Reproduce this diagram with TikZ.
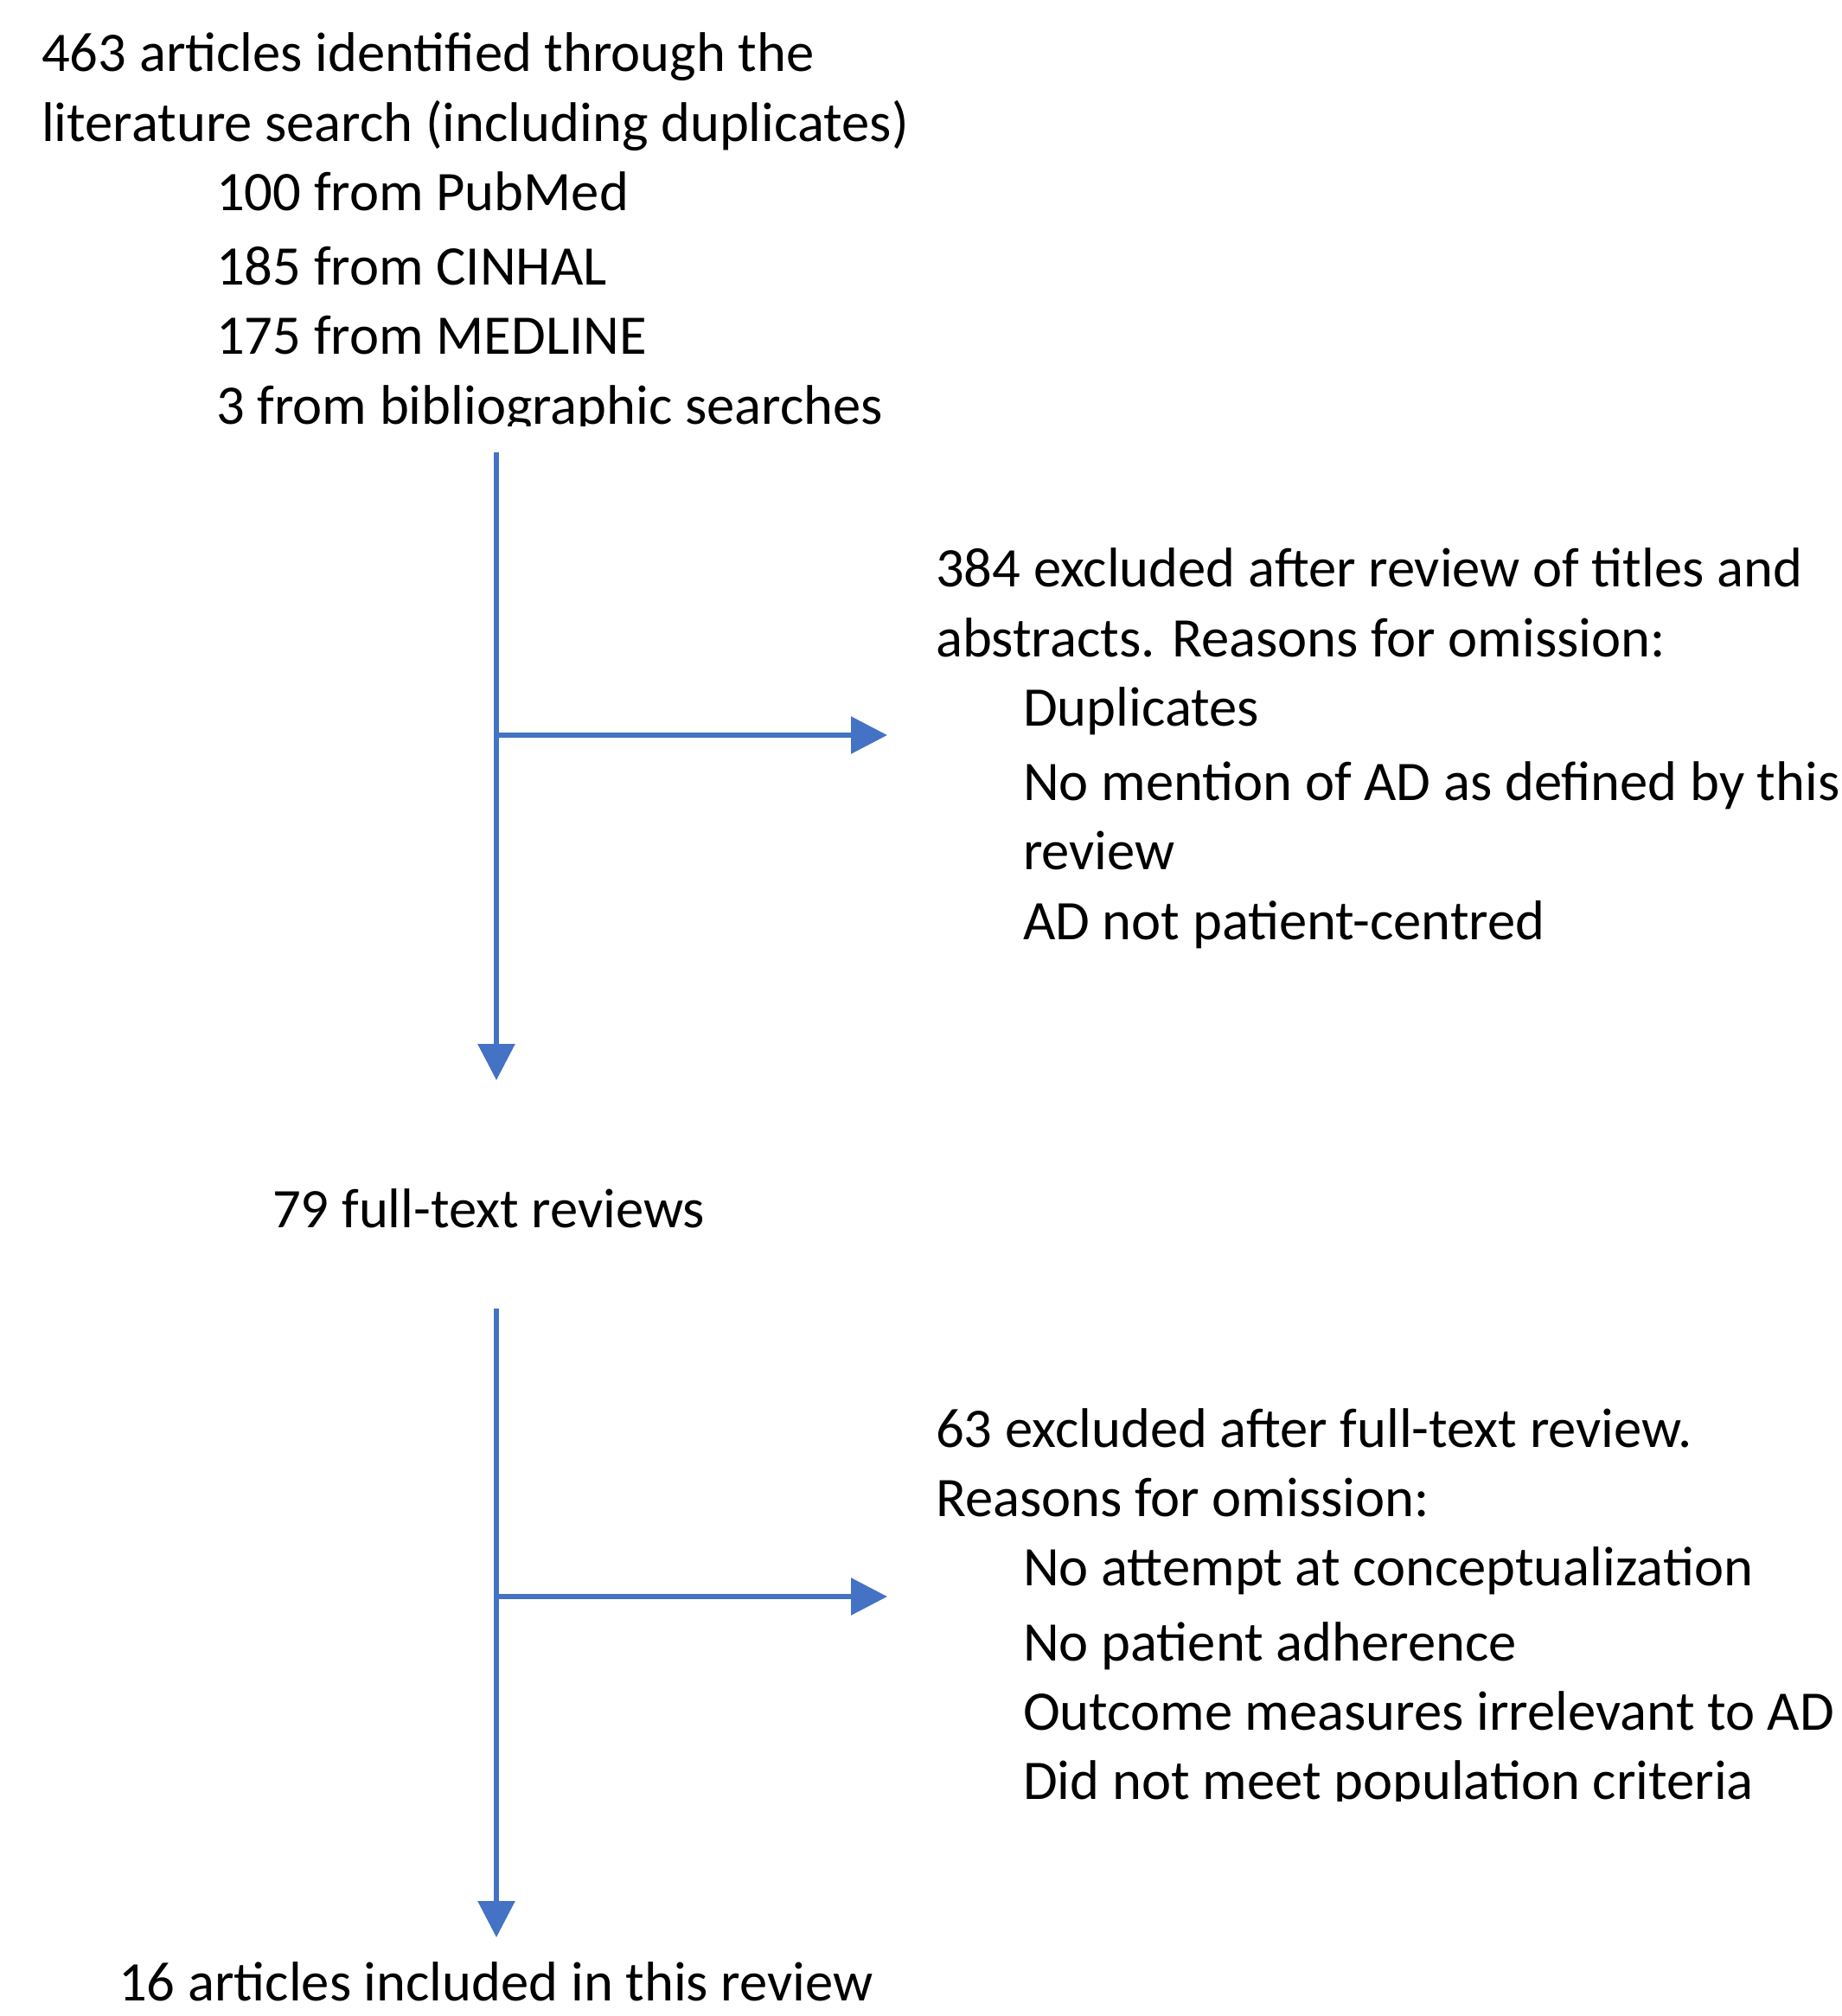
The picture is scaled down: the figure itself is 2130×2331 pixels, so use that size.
\documentclass[tikz,border=0pt]{standalone}
\usepackage{fontspec}
\setmainfont{Carlito}
\usetikzlibrary{arrows.meta}
\definecolor{flowblue}{HTML}{4472C4}
\begin{document}
\begin{tikzpicture}[x=1pt,y=-1pt,
  txt/.style={anchor=base west,inner sep=0pt,font=\fontsize{64.6}{80}\selectfont},
  flow/.style={draw=flowblue,line width=6pt,-{Triangle[length=42pt,width=42pt]}}]
\useasboundingbox (0,0) rectangle (2130,2331);
% top block
\node[txt] (t1) at (48,82) {463 articles identified through the};
\node[txt] (t2) at (48,163) {literature search (including duplicates)};
\node[txt] (t3) at (250,243) {100 from PubMed};
\node[txt] (t4) at (250,329) {185 from CINHAL};
\node[txt] (t5) at (250,409) {175 from MEDLINE};
\begin{scope}
\clip (0,0) rectangle (2130,492);
\node[txt] (t6) at (250,490) {3 from bibliographic searches};
\end{scope}
% first exclusion
\node[txt] (e1) at (1082,678) {384 excluded after review of titles and};
\node[txt] (e2) at (1082,759) {abstracts. Reasons for omission:};
\node[txt] (e3) at (1183,839) {Duplicates};
\node[txt] (e4) at (1183,925) {No mention of AD as defined by this};
\node[txt] (e5) at (1183,1005) {review};
\node[txt] (e6) at (1183,1086) {AD not patient-centred};
% full text
\node[txt] (f1) at (315,1419) {79 full-text reviews};
% second exclusion
\node[txt] (g1) at (1082,1673) {63 excluded after full-text review.};
\node[txt] (g2) at (1082,1753) {Reasons for omission:};
\node[txt] (g3) at (1183,1833) {No attempt at conceptualization};
\node[txt] (g4) at (1183,1920) {No patient adherence};
\node[txt] (g5) at (1183,2000) {Outcome measures irrelevant to AD};
\begin{scope}
\clip (0,0) rectangle (2130,2082);
\node[txt] (g6) at (1183,2080) {Did not meet population criteria};
\end{scope}
% included
\node[txt] (h1) at (137,2313) {16 articles included in this review};
% connectors
\coordinate (a1) at (574,523);
\coordinate (a1e) at (574,1249);
\coordinate (b1) at (574,850);
\coordinate (b1e) at (1026,850);
\coordinate (a2) at (574,1513);
\coordinate (a2e) at (574,2240);
\coordinate (b2) at (574,1846);
\coordinate (b2e) at (1026,1846);
\draw[flow] (a1) -- (a1e);
\draw[flow] (b1) -- (b1e);
\draw[flow] (a2) -- (a2e);
\draw[flow] (b2) -- (b2e);
\end{tikzpicture}
\end{document}
